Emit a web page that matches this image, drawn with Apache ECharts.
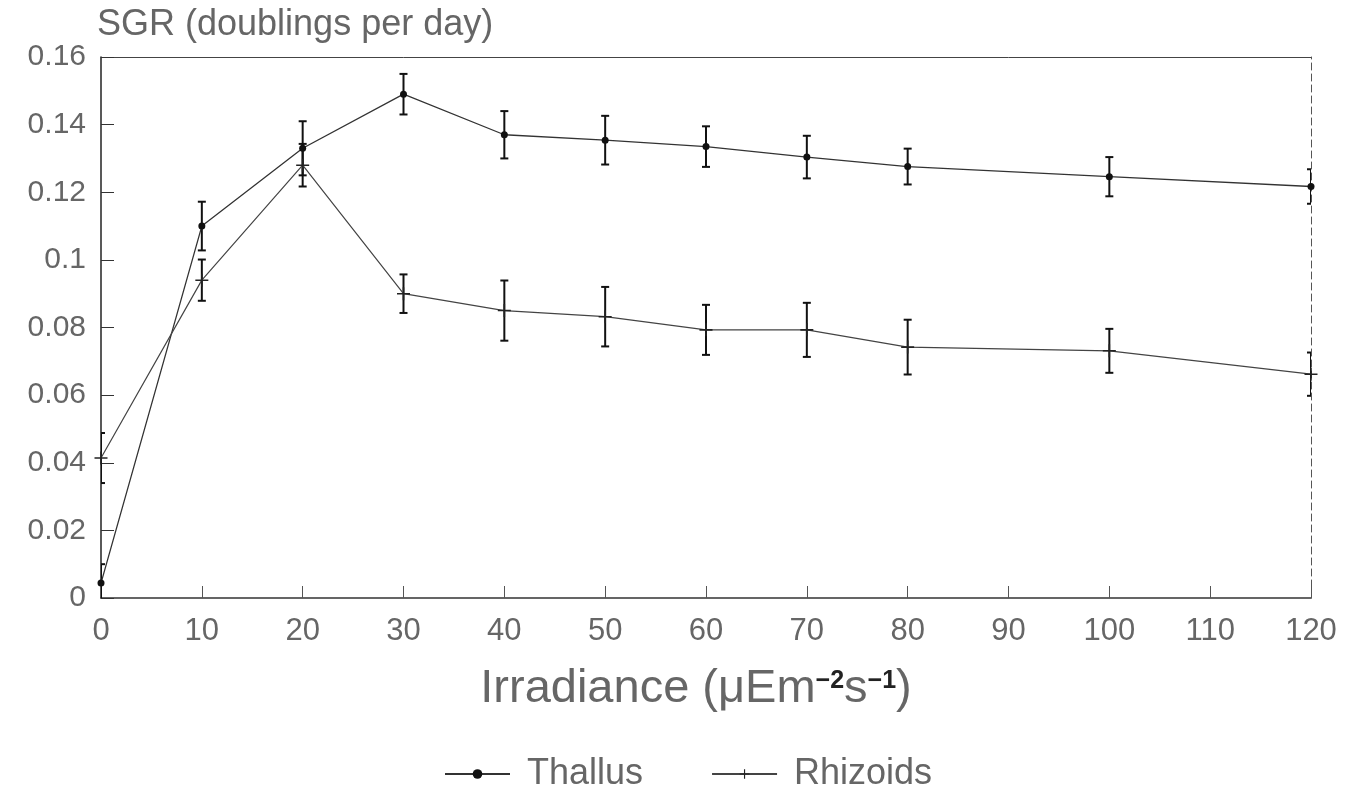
<!DOCTYPE html>
<html>
<head>
<meta charset="utf-8">
<title>SGR vs irradiance</title>
<script src="https://cdn.jsdelivr.net/npm/echarts@6/dist/echarts.min.js"></script>
<style>
  html, body { margin: 0; padding: 0; background: #fff; }
  #chart { width: 1349px; height: 788px; }
</style>
</head>
<body>
<div id="chart"></div>
<script>
// Irradiance levels (µE m-2 s-1)
const irradiance = [0, 10, 20, 30, 40, 50, 60, 70, 80, 100, 120];
// Specific growth rate (doublings per day) with error half-widths
const thallus     = [0.0044, 0.110, 0.133, 0.149, 0.137, 0.1354, 0.1335, 0.1304, 0.1276, 0.1246, 0.1217];
const thallusErr  = [0.0056, 0.0072, 0.0080, 0.0060, 0.0070, 0.0072, 0.0060, 0.0063, 0.0053, 0.0058, 0.0051];
const rhizoids    = [0.0414, 0.094, 0.128, 0.090, 0.085, 0.0832, 0.0793, 0.0793, 0.0742, 0.0731, 0.0662];
const rhizoidsErr = [0.0074, 0.0061, 0.0063, 0.0057, 0.0089, 0.0088, 0.0074, 0.0080, 0.0081, 0.0065, 0.0064];
// Axis ticks
const xTicks = { min: 0, max: 120, step: 10 };
const yTicks = { min: 0, max: 0.16, step: 0.02 };

const FONT = 'Liberation Sans';
const TEXT = '#666';
const PLUS = 'path://M0,4.4H10V5.6H0Z M4.4,0H5.6V10H4.4Z';

function pairs(xs, ys) { return xs.map((x, i) => [x, ys[i]]); }
function bars(xs, ys, es) { return xs.map((x, i) => [x, ys[i] - es[i], ys[i] + es[i]]); }

// Vertical error bar with short caps at both ends
function errorBar(params, api) {
  const x = api.value(0);
  const lo = api.coord([x, api.value(1)]);
  const hi = api.coord([x, api.value(2)]);
  const cap = 4;
  const style = { stroke: '#111', lineWidth: 2 };
  return {
    type: 'group',
    children: [
      { type: 'line', shape: { x1: lo[0], y1: lo[1], x2: hi[0], y2: hi[1] }, style },
      { type: 'line', shape: { x1: hi[0] - cap, y1: hi[1], x2: hi[0] + cap, y2: hi[1] }, style },
      { type: 'line', shape: { x1: lo[0] - cap, y1: lo[1], x2: lo[0] + cap, y2: lo[1] }, style }
    ]
  };
}

const chart = echarts.init(document.getElementById('chart'), null, { renderer: 'canvas' });

chart.setOption({
  backgroundColor: '#fff',
  animation: false,
  textStyle: { fontFamily: FONT },
  grid: { left: 101, right: 38, top: 57, bottom: 190, containLabel: false },
  legend: {
    top: 751,
    left: 439,
    itemWidth: 65,
    itemHeight: 12,
    itemGap: 68,
    textStyle: { fontFamily: FONT, fontSize: 36, color: TEXT, padding: [0, 0, 0, 12] },
    data: [
      { name: 'Thallus' },
      { name: 'Rhizoids' }
    ]
  },
  xAxis: [{
    type: 'value',
    min: xTicks.min, max: xTicks.max, interval: xTicks.step,
    name: 'Irradiance (μEm{sup|−2}s{sup|−1})',
    nameLocation: 'middle',
    nameGap: 68,
    nameTextStyle: {
      fontFamily: FONT, fontSize: 47, color: TEXT,
      padding: [0, 20, 0, 0],
      rich: { sup: { fontFamily: FONT, fontSize: 25, fontWeight: 'bold', color: '#222', verticalAlign: 'top', padding: [3, 0, 0, 0] } }
    },
    axisLine: { show: true, onZero: false, lineStyle: { color: '#333', width: 1.5 } },
    axisTick: { show: true, inside: true, length: 12, lineStyle: { color: '#555', width: 1 } },
    axisLabel: { fontFamily: FONT, fontSize: 31, color: TEXT, margin: 18 },
    splitLine: { show: false }
  }, {
    type: 'value', position: 'top',
    min: xTicks.min, max: xTicks.max,
    axisLine: { show: true, onZero: false, lineStyle: { color: '#444', width: 1 } },
    axisTick: { show: false }, axisLabel: { show: false }, splitLine: { show: false }
  }],
  yAxis: [{
    type: 'value',
    min: yTicks.min, max: yTicks.max, interval: yTicks.step,
    name: 'SGR (doublings per day)',
    nameLocation: 'end',
    nameGap: 14,
    nameTextStyle: {
      fontFamily: FONT, fontSize: 36, color: TEXT,
      align: 'left', verticalAlign: 'bottom', padding: [0, 0, 0, -4]
    },
    axisLine: { show: true, onZero: false, lineStyle: { color: '#222', width: 1.5 } },
    axisTick: { show: true, inside: true, length: 13, lineStyle: { color: '#333', width: 1 } },
    axisLabel: {
      fontFamily: FONT, fontSize: 30, color: TEXT, margin: 15,
      formatter: v => String(+v.toFixed(2))
    },
    splitLine: { show: false }
  }, {
    type: 'value', position: 'right',
    min: yTicks.min, max: yTicks.max,
    axisLine: { show: true, onZero: false, lineStyle: { color: '#555', width: 1, type: [7, 4] } },
    axisTick: { show: false }, axisLabel: { show: false }, splitLine: { show: false }
  }],
  series: [
    {
      name: 'Thallus',
      type: 'line',
      data: pairs(irradiance, thallus),
      symbol: 'circle',
      symbolSize: 7,
      itemStyle: { color: '#111' },
      lineStyle: { color: '#333', width: 1.3 },
      z: 3
    },
    {
      name: 'Rhizoids',
      type: 'line',
      data: pairs(irradiance, rhizoids),
      symbol: PLUS,
      symbolSize: 13,
      itemStyle: { color: '#222' },
      lineStyle: { color: '#444', width: 1.2 },
      z: 3
    },
    {
      name: 'Thallus error',
      type: 'custom',
      renderItem: errorBar,
      data: bars(irradiance, thallus, thallusErr),
      encode: { x: 0, y: [1, 2] },
      clip: true,
      z: 2
    },
    {
      name: 'Rhizoids error',
      type: 'custom',
      renderItem: errorBar,
      data: bars(irradiance, rhizoids, rhizoidsErr),
      encode: { x: 0, y: [1, 2] },
      clip: true,
      z: 2
    }
  ]
});
</script>
</body>
</html>
